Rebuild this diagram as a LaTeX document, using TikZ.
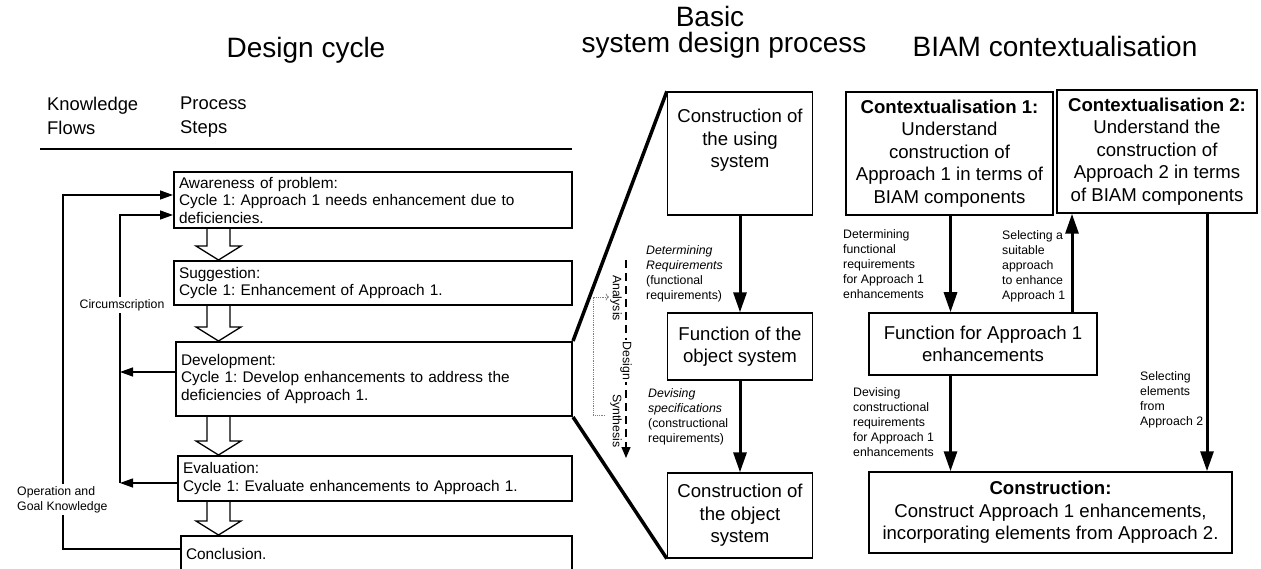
\documentclass[tikz,border=0pt]{standalone}
\usepackage{fontspec}
\setmainfont{Liberation Sans}
\usetikzlibrary{arrows.meta,calc}
\frenchspacing

\newcommand{\ttlfont}{\fontsize{28}{20}\selectfont}
\newcommand{\hdrfont}{\fontsize{18.4}{24}\selectfont}
\newcommand{\stepfont}{\fontsize{15.4}{17.5}\selectfont}
\newcommand{\boxfont}{\fontsize{18.6}{22.5}\selectfont}
\newcommand{\lblfont}{\fontsize{12.3}{15}\selectfont}

\newcommand{\hollow}[2]{
\draw[line width=1.3pt] ($(axis |- #1.south)+(-11.5,0)$) -- ($(axis |- #2.north)+(-11.5,-14)$)
  -- ($(axis |- #2.north)+(-22.5,-14)$) -- (axis |- #2.north) -- ($(axis |- #2.north)+(22.5,-14)$)
  -- ($(axis |- #2.north)+(11.5,-14)$) -- ($(axis |- #1.south)+(11.5,0)$);
}

\begin{document}
\begin{tikzpicture}[x=1pt, y=-1pt,
  stepbox/.style={draw, line width=2pt, align=left, inner xsep=5pt, inner ysep=2pt, font=\stepfont},
  midbox/.style={draw, line width=1.3pt, align=center, font=\boxfont, minimum width=145pt},
  ctxbox/.style={draw, line width=1.5pt, align=center, font=\boxfont},
  lbl/.style={font=\lblfont, align=left, anchor=north west, inner sep=0pt},
  ttl/.style={font=\ttlfont, anchor=base, inner sep=0pt},
  bigarr/.style={line width=3pt, -{Triangle[length=20pt,width=13pt]}},
  flow/.style={line width=1.3pt},
  flowtip/.style={flow, -{Triangle[length=13pt,width=9pt]}}]
\useasboundingbox (0,0) rectangle (1261,569);
\clip (0,0) rectangle (1261,569);

% titles
\node[ttl] (ttldc) at (306,58) {Design cycle};
\node[ttl] (ttlbasic) at (710,27) {Basic};
\node[ttl] (ttlsys) at (724,53) {system design process};
\node[ttl] (ttlbiam) at (1055,57) {BIAM contextualisation};

% design cycle
\node[font=\hdrfont, align=left, anchor=north west, inner sep=0pt] (kflow) at (47,97) {Knowledge\\Flows};
\node[font=\hdrfont, align=left, anchor=north west, inner sep=0pt] (psteps) at (180,97) {Process\\Steps};
\draw[flow] (40,149) -- (572,149);

\node[stepbox, text width=388pt, minimum height=56pt] (aware) at (373,200) {Awareness of problem:\\Cycle 1: Approach 1 needs enhancement due to\\deficiencies.};
\node[stepbox, text width=388pt, minimum height=44pt] (sugg) at (373,283) {Suggestion:\\Cycle 1: Enhancement of Approach 1.};
\node[stepbox, text width=386pt, minimum height=74pt] (devel) at (374,379) {Development:\\Cycle 1: Develop enhancements to address the\\deficiencies of Approach 1.};
\node[stepbox, text width=384pt, minimum height=45pt] (evalu) at (375,478.5) {Evaluation:\\Cycle 1: Evaluate enhancements to Approach 1.};
\node[stepbox, text width=381pt, minimum height=36pt] (concl) at (376.5,554) {Conclusion.};

\coordinate (axis) at (218.5,0);
\hollow{aware}{sugg}
\hollow{sugg}{devel}
\hollow{devel}{evalu}
\hollow{evalu}{concl}

\coordinate (outer) at (63,195);
\coordinate (inner) at (120,215);
\coordinate (conclout) at ($(concl.west)+(0,-5)$);
\coordinate (develout) at ($(devel.west)+(0,-7)$);
\coordinate (evalout) at ($(evalu.west)+(0,4.5)$);
\draw[flowtip] (conclout) -| (outer) -- (outer -| aware.west);
\draw[flowtip] (develout) -- (develout -| inner);
\draw[flowtip] (evalout) -- (evalout -| inner);
\draw[flowtip] (evalout -| inner) -- (inner) -- (inner -| aware.west);
\node[font=\lblfont, fill=white, inner sep=2pt] (circ) at (122,305) {Circumscription};
\node[font=\lblfont, fill=white, align=left, inner sep=2pt, anchor=west] (opgoal) at (15,499.5) {Operation and\\Goal Knowledge};

% basic system design process
\node[midbox, minimum height=123pt] (using) at (740,153.5) {};
\node[font=\boxfont, align=center, inner sep=0pt, anchor=north] (usingtxt) at ($(using.north)+(0,17.5)$) {Construction of\\the using\\system};
\node[midbox, minimum height=67pt] (funcobj) at (740,346.5) {Function of the\\object system};
\node[midbox, minimum height=85pt] (consobj) at (740,515.5) {Construction of\\the object\\system};
\draw[bigarr] (using) -- (funcobj);
\draw[bigarr] (funcobj) -- (consobj);
\draw[line width=3.5pt] (devel.north east) -- (using.north west);
\draw[line width=3.5pt] (devel.south east) -- (consobj.south west);

\node[lbl] (detreq) at (646,245) {\textit{Determining}\\\textit{Requirements}\\(functional\\requirements)};
\node[lbl] (devspec) at (648,388) {\textit{Devising}\\\textit{specifications}\\(constructional\\requirements)};

\coordinate (dtop) at (626,260);
\coordinate (dbot) at (626,458);
\draw[flow, dash pattern=on 8pt off 5pt, -{Triangle[length=11pt,width=9pt]}] (dtop) -- (dbot);
\node[font=\lblfont, rotate=-90, inner sep=0pt] (ana) at (616,298) {Analysis};
\node[font=\lblfont, rotate=-90, fill=white, inner sep=2pt] (dsg) at (626,361) {Design};
\node[font=\lblfont, rotate=-90, inner sep=0pt] (syn) at (616,421) {Synthesis};
\coordinate (dota) at (605,415);
\coordinate (dotb) at (593,415);
\coordinate (dotc) at (593,297);
\coordinate (dotd) at (609,297);
\draw[gray, line width=0.8pt, densely dotted, ->] (dota) -- (dotb) -- (dotc) -- (dotd);

% BIAM contextualisation
\node[ctxbox, minimum width=207pt, minimum height=123pt] (ctx1) at (949.5,153.5) {\textbf{Contextualisation 1:}\\Understand\\construction of\\Approach 1 in terms of\\BIAM components};
\node[ctxbox, minimum width=200pt, minimum height=123pt] (ctx2) at (1157,151.5) {\textbf{Contextualisation 2:}\\Understand the\\construction of\\Approach 2 in terms\\of BIAM components};
\node[ctxbox, minimum width=228pt, minimum height=62pt] (funcf) at (983,344) {Function for Approach 1\\enhancements};
\node[ctxbox, minimum width=363pt, minimum height=81pt] (cons) at (1050.5,512.5) {\textbf{Construction:}\\Construct Approach 1 enhancements,\\incorporating elements from Approach 2.};

\coordinate (detx) at (950.5,0);
\coordinate (selx) at (1072,0);
\coordinate (elex) at (1207,0);
\draw[bigarr] (detx |- ctx1.south) -- (detx |- funcf.north);
\draw[bigarr] (selx |- funcf.north) -- (selx |- ctx2.south);
\draw[bigarr] (detx |- funcf.south) -- (detx |- cons.north);
\draw[bigarr] (elex |- ctx2.south) -- (elex |- cons.north);

\node[lbl] (detfun) at (843,229) {Determining\\functional\\requirements\\for Approach 1\\enhancements};
\node[lbl] (selapp) at (1002,230) {Selecting a\\suitable\\approach\\to enhance\\Approach 1};
\node[lbl] (devcon) at (853,387) {Devising\\constructional\\requirements\\for Approach 1\\enhancements};
\node[lbl] (selele) at (1140,371) {Selecting\\elements\\from\\Approach 2};
\end{tikzpicture}
\end{document}
